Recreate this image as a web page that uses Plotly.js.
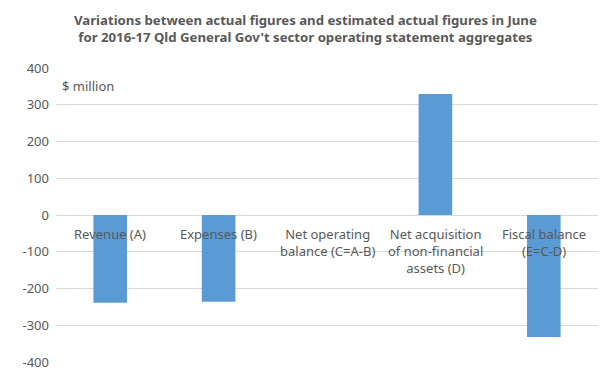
<!DOCTYPE html>
<html>
<head>
<meta charset="utf-8">
<script src="https://cdn.plot.ly/plotly-3.0.1.min.js"></script>
<style>html,body{margin:0;padding:0;background:#fff;}#chart{width:613px;height:379px;}</style>
</head>
<body>
<div id="chart"></div>
<script>
var categories = ["Revenue (A)", "Expenses (B)", "Net operating<br>balance (C=A-B)", "Net acquisition<br>of non-financial<br>assets (D)", "Fiscal balance<br>(E=C-D)"];
var values = [-239, -236, 0, 329, -332];
var yTicks = [-400, -300, -200, -100, 0, 100, 200, 300, 400];
var titleText = "<b>Variations between actual figures and estimated actual figures in June<br>for 2016-17 Qld General Gov't sector operating statement aggregates</b>";

var grey = "#595959";
var font = "Noto Sans, Open Sans, sans-serif";

var annotations = categories.map(function (c) {
  return {
    x: c, y: 0, xref: "x", yref: "y",
    text: c, showarrow: false, yanchor: "top", yshift: -8,
    font: {family: font, size: 13, color: grey}, align: "center"
  };
});
annotations.push({
  x: 0.008, y: 0.975, xref: "paper", yref: "paper", xanchor: "left", yanchor: "top",
  text: "$ million", showarrow: false, font: {family: font, size: 13, color: grey}
});
annotations.push({
  x: 0.46, y: 1.133, xref: "paper", yref: "paper", xanchor: "center", yanchor: "middle",
  text: titleText, showarrow: false, align: "center",
  font: {family: font, size: 13.2, color: grey}
});

Plotly.newPlot("chart", [{
  type: "bar", x: categories, y: values,
  marker: {color: "#5b9bd5"}, hoverinfo: "none"
}], {
  width: 613, height: 379,
  margin: {l: 56, r: 15, t: 68, b: 17},
  paper_bgcolor: "#fff", plot_bgcolor: "#fff",
  bargap: 0.69,
  showlegend: false,
  xaxis: {showticklabels: false, showgrid: false, zeroline: false, showline: false, ticks: ""},
  yaxis: {
    range: [-400, 400], tickvals: yTicks, ticktext: yTicks.map(String),
    showgrid: true, gridcolor: "#d9d9d9", gridwidth: 1,
    zeroline: true, zerolinecolor: "#d9d9d9", zerolinewidth: 1,
    showline: false, ticks: "", ticklabelstandoff: 6,
    tickfont: {family: font, size: 13, color: grey}
  },
  annotations: annotations
}, {staticPlot: true, displayModeBar: false});
</script>
</body>
</html>
